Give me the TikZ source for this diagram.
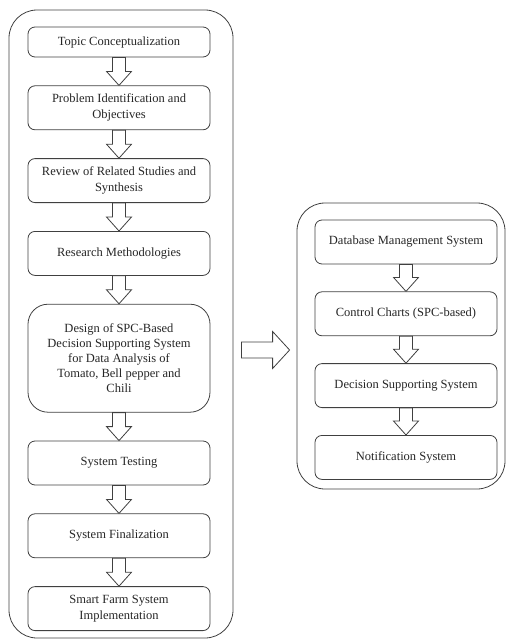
\documentclass[tikz,border=0pt]{standalone}
\usepackage{fontspec}
\setmainfont{Liberation Serif}
\usetikzlibrary{positioning}
\usetikzlibrary{calc}

\tikzset{
  stage/.style={draw=black!75, line width=0.8pt, rounded corners=7pt,
    minimum width=182pt, minimum height=44pt, inner sep=2pt, align=center,
    text=black!85, font=\fontsize{12.5}{16}\selectfont},
  frame/.style={draw=black!75, line width=0.8pt, rounded corners=28pt},
  hollow/.style={draw=black!75, line width=0.8pt, fill=white, line join=miter},
}

% hollow block arrow from the bottom of #1 to the top of #2
\newcommand{\stagearrow}[2]{%
  \draw[hollow] ($(#1.south)+(-6.5,0)$) -- ($(#2.north)+(-6.5,14)$) -- ($(#2.north)+(-12.5,14)$)
    -- (#2.north) -- ($(#2.north)+(12.5,14)$) -- ($(#2.north)+(6.5,14)$) -- ($(#1.south)+(6.5,0)$) -- cycle;}
% hollow block arrow from frame #1 to frame #2
\newcommand{\sidearrow}[2]{%
  \coordinate (s) at ($(#1.east |- #2.west)+(8,-4)$);
  \coordinate (t) at ($(#2.west)+(-7,-4)$);
  \draw[hollow] ($(s)+(0,8)$) -- ($(t)+(-17,8)$) -- ($(t)+(-17,18.5)$) -- (t)
    -- ($(t)+(-17,-18.5)$) -- ($(t)+(-17,-8)$) -- ($(s)+(0,-8)$) -- cycle;}

\begin{document}
\begin{tikzpicture}[x=1pt, y=1pt]
        \useasboundingbox (0,0) rectangle (508,-640);
        % Define nodes
        % frames
        \node[frame, minimum width=224pt, minimum height=628pt](process) at (121,-324){}; %
        \node[frame, minimum width=208pt, minimum height=286pt](system) at (401,-346){}; %

        % research process
        \node[stage, minimum height=30pt](topic) at (119,-42){Topic Conceptualization}; %
        \node[stage, below=28pt of topic](problem){Problem Identification and\\Objectives}; %
        \node[stage, below=28pt of problem](review){Review of Related Studies and\\Synthesis}; %
        \node[stage, below=28pt of review](method){Research Methodologies}; %
        \node[stage, below=28pt of method, minimum height=108pt, rounded corners=20pt,
          font=\fontsize{12.5}{15}\selectfont](design){Design of SPC-Based\\Decision Supporting System\\for Data Analysis of\\Tomato, Bell pepper and\\Chili}; %
        \node[stage, below=28pt of design](testing){System Testing}; %
        \node[stage, below=28pt of testing](final){System Finalization}; %
        \node[stage, below=28pt of final](smart){Smart Farm System\\Implementation}; %

        % system parts
        \node[stage](dbms) at (406,-242){Database Management System}; %
        \node[stage, below=27pt of dbms](charts){Control Charts (SPC-based)}; %
        \node[stage, below=27pt of charts](dss){Decision Supporting System}; %
        \node[stage, below=27pt of dss](notify){Notification System}; %

        \stagearrow{topic}{problem}
        \stagearrow{problem}{review}
        \stagearrow{review}{method}
        \stagearrow{method}{design}
        \stagearrow{design}{testing}
        \stagearrow{testing}{final}
        \stagearrow{final}{smart}

        \stagearrow{dbms}{charts}
        \stagearrow{charts}{dss}
        \stagearrow{dss}{notify}

        \sidearrow{process}{system}
    \end{tikzpicture}
\end{document}
